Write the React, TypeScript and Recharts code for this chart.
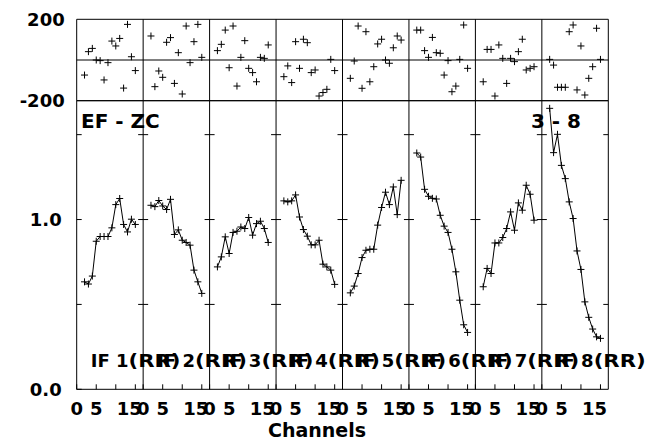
import React from 'react';
import {
  ComposedChart,
  Line,
  ReferenceArea,
  ReferenceLine,
  Scatter,
  XAxis,
  YAxis,
} from 'recharts';

// channels plotted in every IF panel (edge channels flagged)
const channels = [2, 3, 4, 5, 6, 7, 8, 9, 10, 11, 12, 13, 14, 15];
const ifNames = ['IF 1(RR)', 'IF 2(RR)', 'IF 3(RR)', 'IF 4(RR)', 'IF 5(RR)', 'IF 6(RR)', 'IF 7(RR)', 'IF 8(RR)'];

const channelTicks = [0, 5, 10, 15];
const channelTickLabels = ['0', '5', '', '15'];
const ampTicks = [0, 0.5, 1.0, 1.5];
const ampTickLabels = ['0.0', '', '1.0', ''];
const phaseTicks = [-200, 200];

// amplitude per channel
const ampIF1 = [0.633, 0.62, 0.667, 0.872, 0.9, 0.9, 0.9, 0.951, 1.088, 1.124, 0.971, 0.927, 1.002, 0.971];
const ampIF2 = [1.084, 1.076, 1.112, 1.08, 1.059, 1.119, 0.912, 0.939, 0.878, 0.865, 0.849, 0.702, 0.633, 0.565];
const ampIF3 = [0.721, 0.78, 0.898, 0.8, 0.924, 0.931, 0.956, 0.947, 1.012, 0.908, 0.976, 0.99, 0.947, 0.865];
const ampIF4 = [1.11, 1.104, 1.11, 1.145, 1.015, 0.941, 0.902, 0.851, 0.851, 0.878, 0.737, 0.721, 0.702, 0.618];
const ampIF5 = [0.568, 0.608, 0.682, 0.776, 0.819, 0.825, 0.825, 0.967, 1.071, 1.161, 1.088, 1.192, 1.029, 1.231];
const ampIF6 = [1.392, 1.368, 1.178, 1.137, 1.125, 1.121, 1.025, 0.961, 0.924, 0.825, 0.692, 0.525, 0.38, 0.335];
const ampIF7 = [0.604, 0.712, 0.682, 0.862, 0.862, 0.894, 0.947, 1.045, 0.937, 1.098, 1.055, 1.202, 1.149, 0.996];
const ampIF8 = [1.655, 1.394, 1.502, 1.319, 1.241, 1.104, 1.006, 0.815, 0.706, 0.515, 0.424, 0.355, 0.309, 0.3];

// phase per channel (degrees)
const phaseIF1 = [-74, 41, 57, 0, -3, -98, -13, 93, 69, 106, -138, 175, 16, -52];
const phaseIF2 = [118, -131, -54, -85, 87, 110, -115, 36, -167, 167, -13, 90, 175, 13];
const phaseIF3 = [46, 77, 147, -38, 167, -128, 13, 95, -41, -62, -107, 13, 8, 74];
const phaseIF4 = [-82, -29, -111, 90, -41, 102, 85, -62, -49, -177, -160, -144, 3, -52];
const phaseIF5 = [-90, -5, 167, -139, 139, -107, -33, 79, 102, 0, -16, 60, 118, 98];
const phaseIF6 = [147, 147, 46, 13, 111, 36, 33, -74, -3, -156, -128, 3, 172, -41];
const phaseIF7 = [-107, 52, 52, -177, 74, 8, -115, 8, -8, 41, 102, -49, -41, -33];
const phaseIF8 = [3, -25, -134, -134, -134, 139, 172, -147, 69, -172, -90, -33, 156, 3];

const ampSeries = [ampIF1, ampIF2, ampIF3, ampIF4, ampIF5, ampIF6, ampIF7, ampIF8];
const phaseSeries = [phaseIF1, phaseIF2, phaseIF3, phaseIF4, phaseIF5, phaseIF6, phaseIF7, phaseIF8];

const SPAN = 17; // channel units per IF panel
const X_MAX = SPAN * ifNames.length;
const AMP_MAX = 1.7;
const LABEL_Y = 0.13;

const FONT = 'DejaVu Sans';
const W = 649;
const LEFT = 76.7;
const RIGHT = 40.7;

const rows = ampSeries.flatMap((amps, p) =>
  channels.map((ch, i) => ({ x: p * SPAN + ch, [`a${p}`]: amps[i], ph: phaseSeries[p][i] })),
);
const xTicks = ifNames.flatMap((_, p) => channelTicks.map((t) => p * SPAN + t));
const boundaries = ifNames.map((_, p) => p * SPAN).slice(1);
const edgeTicks = ifNames.flatMap((_, p) =>
  ampTicks.slice(1).map((t) => ({ x: (p + 1) * SPAN, amp: t })),
);
const labelRows = ifNames.map((name, p) => ({ x: p * SPAN, amp: LABEL_Y, name }));

const tickFont = { fontSize: 18, fontWeight: 'bold', fill: '#000', fontFamily: FONT };

function plus(cx: number, cy: number, s = 3.5) {
  return `M${cx - s},${cy}H${cx + s}M${cx},${cy - s}V${cy + s}`;
}

function PlusDot(props: any) {
  const { cx, cy, value } = props;
  if (value == null || cx == null || cy == null) return <g />;
  return <path d={plus(cx, cy)} stroke="#000" strokeWidth={1} fill="none" />;
}

function ChannelTick(props: any) {
  const { x, y, payload } = props;
  const local = payload.value % SPAN;
  const label = channelTickLabels[channelTicks.indexOf(local)] ?? '';
  if (!label) return <g />;
  const shift = label === '15' ? -6 : 0;
  return (
    <text x={x + shift} y={y} dy="0.71em" textAnchor="middle" {...tickFont}>
      {label}
    </text>
  );
}

// the polarisation part of the label is set a little wider, as in the original plot font
function IfLabel(props: any) {
  const { cx, cy, payload } = props;
  const name: string = payload.name;
  const cut = name.indexOf('(');
  return (
    <text x={cx + 14} y={cy} {...tickFont}>
      {name.slice(0, cut)}
      <tspan textLength={52} lengthAdjust="spacingAndGlyphs">
        {name.slice(cut)}
      </tspan>
    </text>
  );
}

export default function App() {
  return (
    <div style={{ position: 'absolute', left: 0, top: 0, width: W, height: 442, fontFamily: FONT }}>
      {/* phase residuals */}
      <div style={{ position: 'absolute', left: 0, top: 0 }}>
        <ComposedChart width={W} height={115} data={rows} margin={{ top: 19.3, right: RIGHT, bottom: 14.3, left: 0 }}>
          <XAxis
            type="number"
            dataKey="x"
            domain={[0, X_MAX]}
            ticks={xTicks}
            interval={0}
            height={0}
            tick={false}
            tickSize={-5}
            axisLine={false}
            tickLine={{ stroke: '#000' }}
          />
          <XAxis
            xAxisId="top"
            orientation="top"
            type="number"
            dataKey="x"
            domain={[0, X_MAX]}
            ticks={xTicks}
            interval={0}
            height={0}
            tick={false}
            tickSize={-4}
            axisLine={false}
            tickLine={{ stroke: '#000' }}
          />
          <YAxis
            type="number"
            domain={[-200, 200]}
            ticks={phaseTicks}
            interval={0}
            width={LEFT}
            axisLine={false}
            tickLine={false}
            tickSize={0}
            tickMargin={12}
            tick={tickFont}
          />
          <ReferenceArea x1={0} x2={X_MAX} y1={-200} y2={200} fill="none" stroke="#000" strokeOpacity={1} />
          <ReferenceLine y={0} stroke="#000" />
          {boundaries.map((b) => (
            <ReferenceLine key={b} x={b} stroke="#000" />
          ))}
          <Scatter
            data={rows}
            dataKey="ph"
            isAnimationActive={false}
            shape={(p: any) => <path d={plus(p.cx, p.cy)} stroke="#000" strokeWidth={1} fill="none" />}
          />
        </ComposedChart>
      </div>

      {/* amplitude */}
      <div style={{ position: 'absolute', left: 0, top: 0 }}>
        <ComposedChart width={W} height={442} data={rows} margin={{ top: 100.7, right: RIGHT, bottom: 0, left: 0 }}>
          <XAxis
            type="number"
            dataKey="x"
            domain={[0, X_MAX]}
            ticks={xTicks}
            interval={0}
            height={52.7}
            tick={<ChannelTick />}
            tickSize={-5}
            tickMargin={18}
            axisLine={false}
            tickLine={{ stroke: '#000' }}
          />
          <YAxis
            type="number"
            domain={[0, AMP_MAX]}
            ticks={ampTicks}
            interval={0}
            width={LEFT}
            axisLine={false}
            tickLine={{ stroke: '#000' }}
            tickSize={-5}
            tickMargin={20}
            tick={tickFont}
            tickFormatter={(v: number) => ampTickLabels[ampTicks.indexOf(v)] ?? ''}
          />
          <ReferenceArea x1={0} x2={X_MAX} y1={0} y2={AMP_MAX} fill="none" stroke="#000" strokeOpacity={1} />
          {boundaries.map((b) => (
            <ReferenceLine key={b} x={b} stroke="#000" />
          ))}
          <Scatter
            data={edgeTicks}
            dataKey="amp"
            isAnimationActive={false}
            shape={(p: any) => {
              const right = p.payload.x === X_MAX;
              return <path d={`M${p.cx - 5},${p.cy}H${right ? p.cx : p.cx + 5}`} stroke="#000" strokeWidth={1} />;
            }}
          />
          <Scatter data={labelRows} dataKey="amp" isAnimationActive={false} shape={(p: any) => <IfLabel {...p} />} />
          {ampSeries.map((_, p) => (
            <Line
              key={p}
              type="linear"
              dataKey={`a${p}`}
              stroke="#000"
              strokeWidth={1}
              dot={<PlusDot />}
              activeDot={false}
              connectNulls={false}
              isAnimationActive={false}
            />
          ))}
        </ComposedChart>
      </div>

      <svg width={W} height={442} style={{ position: 'absolute', left: 0, top: 0, pointerEvents: 'none' }}>
        <text x={81} y={128} fontFamily={FONT} fontWeight="bold" fontSize={20} fill="#000">
          EF - ZC
        </text>
        <text x={581} y={128} textAnchor="end" fontFamily={FONT} fontWeight="bold" fontSize={20} fill="#000">
          3 - 8
        </text>
        <text x={317} y={437} textAnchor="middle" fontFamily={FONT} fontWeight="bold" fontSize={19} fill="#000">
          Channels
        </text>
      </svg>
    </div>
  );
}
